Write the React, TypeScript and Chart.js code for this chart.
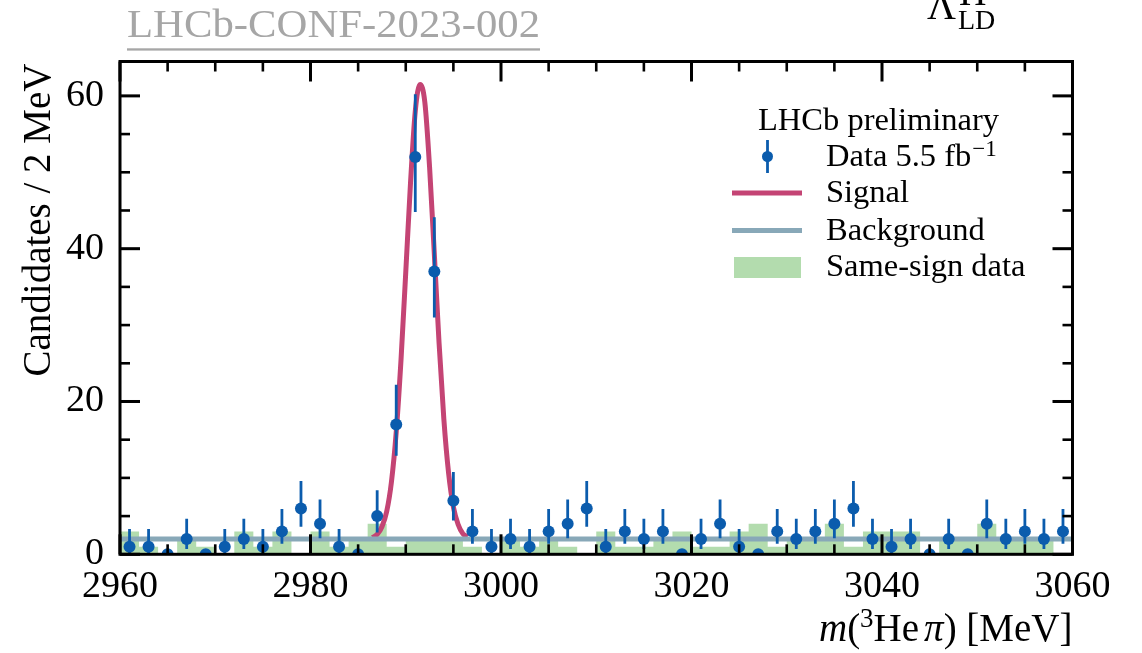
import React, { useEffect, useRef } from 'react';
import { Chart, registerables } from 'chart.js';

Chart.register(...registerables);

// ---------------- data ----------------
const BIN_CENTERS = [
  2961, 2963, 2965, 2967, 2969, 2971, 2973, 2975, 2977, 2979,
  2981, 2983, 2985, 2987, 2989, 2991, 2993, 2995, 2997, 2999,
  3001, 3003, 3005, 3007, 3009, 3011, 3013, 3015, 3017, 3019,
  3021, 3023, 3025, 3027, 3029, 3031, 3033, 3035, 3037, 3039,
  3041, 3043, 3045, 3047, 3049, 3051, 3053, 3055, 3057, 3059,
];
const BIN_WIDTH = 2;

const COUNTS = [
  1, 1, 0, 2, 0, 1, 2, 1, 3, 6,
  4, 1, 0, 5, 17, 52, 37, 7, 3, 1,
  2, 1, 3, 4, 6, 1, 3, 2, 3, 0,
  2, 4, 1, 0, 3, 2, 3, 4, 6, 2,
  1, 2, 0, 2, 0, 4, 2, 3, 2, 3,
];

// asymmetric (Poisson-like) error bars
const ERR_LO = [
  0.83, 0.83, 0, 1.29, 0, 0.83, 1.29, 0.83, 1.63, 2.38,
  1.91, 0.83, 0, 2.16, 4.1, 7.2, 6.0, 2.58, 1.63, 0.83,
  1.29, 0.83, 1.63, 1.91, 2.38, 0.83, 1.63, 1.29, 1.63, 0,
  1.29, 1.91, 0.83, 0, 1.63, 1.29, 1.63, 1.91, 2.38, 1.29,
  0.83, 1.29, 0, 1.29, 0, 1.91, 1.29, 1.63, 1.29, 1.63,
];
const ERR_HI = [
  2.3, 2.3, 0, 2.64, 0, 2.3, 2.64, 2.3, 2.92, 3.58,
  3.16, 2.3, 0, 3.38, 5.2, 8.2, 7.1, 3.77, 2.92, 2.3,
  2.64, 2.3, 2.92, 3.16, 3.58, 2.3, 2.92, 2.64, 2.92, 0,
  2.64, 3.16, 2.3, 0, 2.92, 2.64, 2.92, 3.16, 3.58, 2.64,
  2.3, 2.64, 0, 2.64, 0, 3.16, 2.64, 2.92, 2.64, 2.92,
];

const SAME_SIGN = [
  3, 1, 0, 2, 1, 0, 3, 1, 3, 0,
  3, 1, 2, 4, 1, 2, 2, 2, 1, 0,
  2, 1, 2, 1, 0, 3, 1, 1, 2, 3,
  1, 1, 3, 4, 1, 2, 2, 4, 1, 3,
  3, 3, 0, 2, 2, 4, 2, 2, 2, 0,
];

const BKG_X = [2960, 3060];
const BKG_Y = [2.0, 2.0];

const SIG_X = [
  2986.5, 2987, 2987.5, 2988, 2988.5, 2989, 2989.5, 2990, 2990.5, 2991,
  2991.5, 2992, 2992.5, 2993, 2993.5, 2994, 2994.5, 2995, 2995.5, 2996, 2996.5,
];
const SIG_Y = [
  2.2, 2.6, 3.6, 5.6, 9.5, 16.0, 25.4, 36.9, 48.6, 58.0,
  61.5, 59.2, 50.7, 39.3, 27.6, 17.7, 10.6, 6.2, 3.9, 2.7, 2.3,
];

const X_MAJOR = [2960, 2980, 3000, 3020, 3040, 3060];
const X_MINOR = [
  2965, 2970, 2975, 2985, 2990, 2995, 3005, 3010, 3015,
  3025, 3030, 3035, 3045, 3050, 3055,
];
const Y_MAJOR = [0, 20, 40, 60];
const Y_MINOR = [5, 10, 15, 25, 30, 35, 45, 50, 55];

const X_MIN = 2960;
const X_MAX = 3060;
const Y_MIN = 0;
const Y_MAX = 64.5;

// ---------------- styles ----------------
const SERIF = '"Liberation Serif", "DejaVu Serif", serif';
const C_DATA = '#0b5cad';
const C_SIG = '#c44474';
const C_BKG = '#88a8b8';
const C_SS = '#b3dcae';
const C_GRAY = '#a6a6a6';

const W = 1142;
const H = 653;

export default function App() {
  const ref = useRef<HTMLCanvasElement | null>(null);

  useEffect(() => {
    const canvas = ref.current;
    if (!canvas) return;

    const ssData = BIN_CENTERS.map((c, i) => ({ x: c - BIN_WIDTH / 2, y: SAME_SIGN[i] }));
    ssData.push({ x: BIN_CENTERS[BIN_CENTERS.length - 1] + BIN_WIDTH / 2, y: SAME_SIGN[SAME_SIGN.length - 1] });

    const errorBars = {
      id: 'errorBars',
      beforeDatasetDraw(chart: any, args: any) {
        if (args.index !== 3) return;
        const { ctx, chartArea, scales } = chart;
        ctx.save();
        ctx.beginPath();
        ctx.rect(chartArea.left, chartArea.top, chartArea.right - chartArea.left, chartArea.bottom - chartArea.top);
        ctx.clip();
        ctx.strokeStyle = C_DATA;
        ctx.lineWidth = 2.8;
        BIN_CENTERS.forEach((c, i) => {
          if (ERR_HI[i] <= 0 && ERR_LO[i] <= 0) return;
          const x = scales.x.getPixelForValue(c);
          const y1 = scales.y.getPixelForValue(COUNTS[i] - ERR_LO[i]);
          const y2 = scales.y.getPixelForValue(COUNTS[i] + ERR_HI[i]);
          ctx.beginPath();
          ctx.moveTo(x, y1);
          ctx.lineTo(x, y2);
          ctx.stroke();
        });
        ctx.restore();
      },
    };

    const frameAndText = {
      id: 'frameAndText',
      afterDatasetsDraw(chart: any) {
        const { ctx, chartArea: a, scales } = chart;
        ctx.save();
        ctx.fillStyle = '#000';
        const tickX = (v: number, len: number, w: number) => {
          const x = scales.x.getPixelForValue(v);
          ctx.fillRect(x - w / 2, a.bottom - len, w, len);
          ctx.fillRect(x - w / 2, a.top, w, len);
        };
        const tickY = (v: number, len: number, w: number) => {
          const y = scales.y.getPixelForValue(v);
          if (y < a.top - 1 || y > a.bottom + 1) return;
          ctx.fillRect(a.left, y - w / 2, len, w);
          ctx.fillRect(a.right - len, y - w / 2, len, w);
        };
        X_MAJOR.forEach((v) => tickX(v, 20, 3));
        X_MINOR.forEach((v) => tickX(v, 10, 2.6));
        Y_MAJOR.forEach((v) => tickY(v, 20, 3));
        Y_MINOR.forEach((v) => tickY(v, 10, 2.6));
        ctx.strokeStyle = '#000';
        ctx.lineWidth = 3;
        ctx.strokeRect(a.left, a.top, a.right - a.left, a.bottom - a.top);
        ctx.restore();
      },
      afterDraw(chart: any) {
        const { ctx, chartArea: a } = chart;
        ctx.save();
        ctx.fillStyle = '#000';
        ctx.textBaseline = 'alphabetic';

        // y-axis title
        ctx.save();
        ctx.translate(50, a.top + 2);
        ctx.rotate(-Math.PI / 2);
        ctx.textAlign = 'right';
        ctx.font = `39px ${SERIF}`;
        ctx.fillText('Candidates / 2 MeV', 0, 0);
        ctx.restore();

        // x-axis title: m(3He π) [MeV]
        const fs = 39;
        const reg = `${fs}px ${SERIF}`;
        const ital = `italic ${fs}px ${SERIF}`;
        const sup = `${Math.round(fs * 0.68)}px ${SERIF}`;
        const parts = [
          { t: 'm', f: ital, dy: 0 },
          { t: '(', f: reg, dy: 0 },
          { t: '3', f: sup, dy: -14 },
          { t: 'He', f: reg, dy: 0 },
          { t: ' ', f: `${Math.round(fs * 0.5)}px ${SERIF}`, dy: 0 },
          { t: 'π', f: ital, dy: 0 },
          { t: ') [MeV]', f: reg, dy: 0 },
        ];
        let total = 0;
        parts.forEach((p) => {
          ctx.font = p.f;
          total += ctx.measureText(p.t).width;
        });
        let xx = a.right - total;
        ctx.textAlign = 'left';
        parts.forEach((p) => {
          ctx.font = p.f;
          ctx.fillText(p.t, xx, 641 + p.dy);
          xx += ctx.measureText(p.t).width;
        });

        // gray conference label with underline
        ctx.fillStyle = C_GRAY;
        ctx.font = `41px ${SERIF}`;
        const label = 'LHCb-CONF-2023-002';
        const lw = ctx.measureText(label).width;
        ctx.save();
        ctx.translate(127, 37);
        ctx.scale(413 / lw, 1);
        ctx.fillText(label, 0, 0);
        ctx.restore();
        ctx.fillRect(127, 48.3, 413, 2.3);

        // top-right label (cropped)
        ctx.fillStyle = '#000';
        ctx.font = `40px ${SERIF}`;
        ctx.fillText('Λ', 927, 19);
        ctx.font = `28px ${SERIF}`;
        ctx.fillText('LD', 958, 29);
        ctx.font = `38px ${SERIF}`;
        ctx.fillText('H', 959, 5);

        // legend
        ctx.font = `32.5px ${SERIF}`;
        ctx.fillText('LHCb preliminary', 758, 130);

        ctx.strokeStyle = C_DATA;
        ctx.lineWidth = 2.8;
        ctx.beginPath();
        ctx.moveTo(767.5, 140);
        ctx.lineTo(767.5, 173);
        ctx.stroke();
        ctx.fillStyle = C_DATA;
        ctx.beginPath();
        ctx.arc(767.5, 156.5, 5.5, 0, Math.PI * 2);
        ctx.fill();
        ctx.fillStyle = '#000';
        ctx.font = `32.5px ${SERIF}`;
        const dtxt = 'Data 5.5 fb';
        ctx.fillText(dtxt, 826, 166);
        const dw = ctx.measureText(dtxt).width;
        ctx.font = `23px ${SERIF}`;
        ctx.fillText('\u22121', 826 + dw + 1, 156);

        ctx.strokeStyle = C_SIG;
        ctx.lineWidth = 5;
        ctx.beginPath();
        ctx.moveTo(732, 193);
        ctx.lineTo(802, 193);
        ctx.stroke();
        ctx.font = `32.5px ${SERIF}`;
        ctx.fillText('Signal', 826, 202);

        ctx.strokeStyle = C_BKG;
        ctx.beginPath();
        ctx.moveTo(732, 230.5);
        ctx.lineTo(802, 230.5);
        ctx.stroke();
        ctx.fillText('Background', 826, 240);

        ctx.fillStyle = C_SS;
        ctx.fillRect(734, 257, 67, 21);
        ctx.fillStyle = '#000';
        ctx.fillText('Same-sign data', 826, 276);

        ctx.restore();
      },
    };

    const chart = new Chart(canvas, {
      type: 'line',
      data: {
        datasets: [
          {
            label: 'Same-sign data',
            data: ssData,
            stepped: 'before',
            fill: 'origin',
            backgroundColor: C_SS,
            borderColor: 'rgba(0,0,0,0)',
            borderWidth: 0,
            pointRadius: 0,
            order: 4,
          } as any,
          {
            label: 'Signal',
            data: SIG_X.map((x, i) => ({ x, y: SIG_Y[i] })),
            borderColor: C_SIG,
            borderWidth: 5,
            pointRadius: 0,
            cubicInterpolationMode: 'monotone',
            fill: false,
            order: 3,
          },
          {
            label: 'Background',
            data: BKG_X.map((x, i) => ({ x, y: BKG_Y[i] })),
            borderColor: C_BKG,
            borderWidth: 5,
            pointRadius: 0,
            fill: false,
            order: 2,
          },
          {
            label: 'Data',
            data: BIN_CENTERS.map((x, i) => ({ x, y: COUNTS[i] })),
            showLine: false,
            pointRadius: 6,
            pointBackgroundColor: C_DATA,
            pointBorderWidth: 0,
            borderColor: C_DATA,
            clip: 0,
            order: 1,
          } as any,
        ],
      },
      options: {
        responsive: false,
        animation: false,
        devicePixelRatio: 1,
        events: [],
        layout: { padding: { top: 61.5, right: 69.5, left: 0, bottom: 0 } },
        plugins: {
          legend: { display: false },
          tooltip: { enabled: false },
        },
        scales: {
          x: {
            type: 'linear',
            min: X_MIN,
            max: X_MAX,
            grid: { display: false, drawTicks: false },
            border: { display: false },
            afterBuildTicks: (s: any) => {
              s.ticks = X_MAJOR.map((v) => ({ value: v }));
            },
            afterFit: (s: any) => {
              s.height = H - 554.3;
            },
            ticks: {
              color: '#000',
              padding: 10,
              maxRotation: 0,
              autoSkip: false,
              font: { family: SERIF, size: 38 },
              callback: (v: any) => String(v),
            },
          },
          y: {
            type: 'linear',
            min: Y_MIN,
            max: Y_MAX,
            grid: { display: false, drawTicks: false },
            border: { display: false },
            afterBuildTicks: (s: any) => {
              s.ticks = Y_MAJOR.map((v) => ({ value: v }));
            },
            afterFit: (s: any) => {
              s.width = 120;
            },
            ticks: {
              color: '#000',
              padding: 16,
              font: { family: SERIF, size: 38 },
              callback: (v: any) => String(v),
            },
          },
        },
      },
      plugins: [errorBars, frameAndText],
    });

    return () => chart.destroy();
  }, []);

  return (
    <div style={{ position: 'absolute', left: 0, top: 0, width: W, height: H, background: '#fff' }}>
      <canvas ref={ref} width={W} height={H} style={{ display: 'block', width: W, height: H }} />
    </div>
  );
}
